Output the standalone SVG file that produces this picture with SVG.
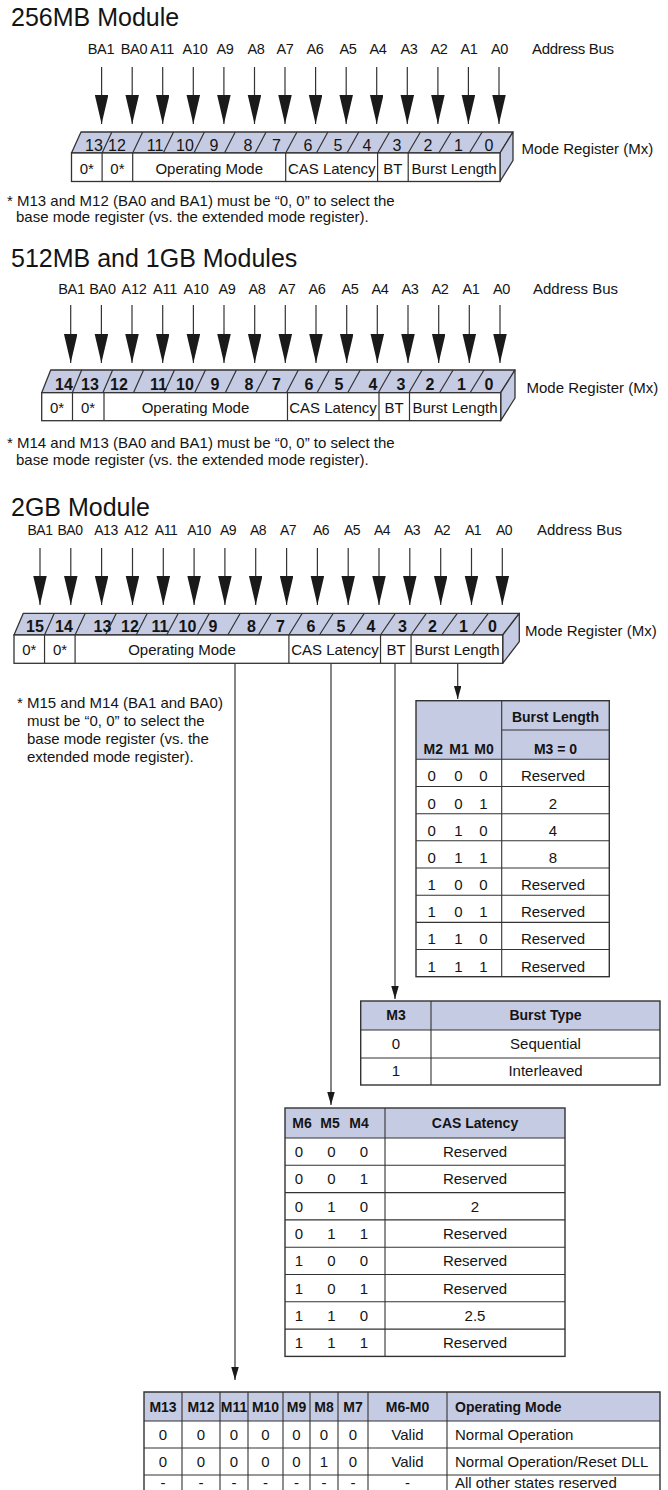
<svg xmlns="http://www.w3.org/2000/svg" width="668" height="1490" viewBox="0 0 668 1490">
<style>
text{font-family:"Liberation Sans",Arial,sans-serif;font-size:15px;fill:#141414}
.ttl{font-size:25px}
.m{text-anchor:middle}
.b{font-weight:bold}
.bh{font-weight:bold;font-size:14px}
.bl{font-size:14.5px;letter-spacing:-0.3px}
.bl3{font-size:14px;letter-spacing:-0.5px}
.bn{font-size:16px}
.face{fill:#c5cbe3;stroke:#333;stroke-width:1.3;stroke-linejoin:round}
.front{fill:#fff;stroke:#333;stroke-width:1.3}
.sl{stroke:#333;stroke-width:1.2;fill:none}
.ln{stroke:#333;stroke-width:1.2;fill:none}
.bus{stroke:#333;stroke-width:1.2}
.hd{fill:#c5cbe3}
.tb{fill:none;stroke:#333;stroke-width:1.4}
.tl{stroke:#333;stroke-width:1.1}
</style>
<defs>
<marker id="big" markerUnits="userSpaceOnUse" markerWidth="29" markerHeight="14" refX="29" refY="6.75" orient="auto"><path d="M0,0 L29,6.75 L0,13.5 z" fill="#1a1a1a"/></marker>
<marker id="sm" markerUnits="userSpaceOnUse" markerWidth="13" markerHeight="8" refX="13" refY="3.75" orient="auto"><path d="M0,0 L13,3.75 L0,7.5 z" fill="#1a1a1a"/></marker>
</defs>

<!-- ============ 256MB ============ -->
<g id="s1-title"><text class="ttl" x="11" y="26">256MB Module</text></g>
<g id="s1-bus" class="bl">
<text class="m bl" x="101" y="54">BA1</text><text class="m bl" x="134" y="54">BA0</text><text class="m bl" x="162" y="54">A11</text><text class="m bl" x="195" y="54">A10</text><text class="m bl" x="225" y="54">A9</text><text class="m bl" x="256" y="54">A8</text><text class="m bl" x="285" y="54">A7</text><text class="m bl" x="315" y="54">A6</text><text class="m bl" x="348" y="54">A5</text><text class="m bl" x="378" y="54">A4</text><text class="m bl" x="409" y="54">A3</text><text class="m bl" x="439" y="54">A2</text><text class="m bl" x="469" y="54">A1</text><text class="m bl" x="499.5" y="54">A0</text>
<text x="532" y="54">Address Bus</text>
</g>
<g id="s1-register">
<polygon class="face" points="71.5,153 81,132 513,132 500,153"/>
<polygon class="face" points="500,153 513,132 513,160.5 500,181.5"/>
<rect class="front" x="71.5" y="153" width="428.5" height="28.5"/>
<path class="sl" d="M102.1,153L111.85,132M132.7,153L142.7,132M163.3,153L173.55,132M193.9,153L204.4,132M224.5,153L235.25,132M255.1,153L266.1,132M285.7,153L296.95,132M316.4,153L327.9,132M347,153L358.75,132M377.6,153L389.6,132M408.2,153L420.45,132M438.8,153L451.3,132M469.4,153L482.15,132"/>
<path class="sl" d="M102.1,153V181.5M132.7,153V181.5M285.7,153V181.5M377.6,153V181.5M408.2,153V181.5"/>
<text class="m bn" x="94" y="151">13</text><text class="m bn" x="117" y="151">12</text><text class="m bn" x="155" y="151">11</text><text class="m bn" x="185" y="151">10</text><text class="m bn" x="214" y="151">9</text><text class="m bn" x="248" y="151">8</text><text class="m bn" x="276.5" y="151">7</text><text class="m bn" x="308" y="151">6</text><text class="m bn" x="338" y="151">5</text><text class="m bn" x="367" y="151">4</text><text class="m bn" x="397" y="151">3</text><text class="m bn" x="428" y="151">2</text><text class="m bn" x="458.5" y="151">1</text><text class="m bn" x="489" y="151">0</text>
<text class="m" x="86.8" y="174">0*</text><text class="m" x="117.4" y="174">0*</text><text class="m" x="209.2" y="174">Operating Mode</text><text class="m" x="331.7" y="174">CAS Latency</text><text class="m" x="392.9" y="174">BT</text><text class="m" x="454.1" y="174">Burst Length</text>
<text x="521.5" y="154">Mode Register (Mx)</text>
</g>
<g id="s1-note">
<text x="7" y="206">* M13 and M12 (BA0 and BA1) must be “0, 0” to select the</text>
<text x="16" y="222">base mode register (vs. the extended mode register).</text>
</g>

<!-- ============ 512MB / 1GB ============ -->
<g id="s2-title"><text class="ttl" x="11" y="267">512MB and 1GB Modules</text></g>
<g id="s2-bus">
<text class="m bl" x="71.5" y="294">BA1</text><text class="m bl" x="102.5" y="294">BA0</text><text class="m bl" x="134" y="294">A12</text><text class="m bl" x="165" y="294">A11</text><text class="m bl" x="196" y="294">A10</text><text class="m bl" x="227" y="294">A9</text><text class="m bl" x="257" y="294">A8</text><text class="m bl" x="287" y="294">A7</text><text class="m bl" x="317" y="294">A6</text><text class="m bl" x="350" y="294">A5</text><text class="m bl" x="380" y="294">A4</text><text class="m bl" x="410" y="294">A3</text><text class="m bl" x="440" y="294">A2</text><text class="m bl" x="471" y="294">A1</text><text class="m bl" x="501.5" y="294">A0</text>
<text x="533" y="294">Address Bus</text>
</g>
<g id="s2-register">
<polygon class="face" points="41.7,392.7 50.7,370 515,370 500.7,392.7"/>
<polygon class="face" points="500.7,392.7 515,370 515,398 500.7,420.7"/>
<rect class="front" x="41.7" y="392.7" width="459" height="28"/>
<path class="sl" d="M72.3,392.7L81.65,370M102.9,392.7L112.6,370M133.5,392.7L143.56,370M164.1,392.7L174.5,370M194.7,392.7L205.47,370M225.3,392.7L236.4,370M255.9,392.7L267.37,370M286.5,392.7L298.3,370M317.1,392.7L329.28,370M347.7,392.7L360.23,370M378.3,392.7L391.2,370M408.9,392.7L422.14,370M439.5,392.7L453.1,370M470.1,392.7L484.04,370"/>
<path class="sl" d="M72.5,392.7V420.7M104,392.7V420.7M287.5,392.7V420.7M379,392.7V420.7M409.5,392.7V420.7"/>
<text class="m b bn" x="64" y="390">14</text><text class="m b bn" x="90" y="390">13</text><text class="m b bn" x="119" y="390">12</text><text class="m b bn" x="158.5" y="390">11</text><text class="m b bn" x="185" y="390">10</text><text class="m b bn" x="215" y="390">9</text><text class="m b bn" x="249" y="390">8</text><text class="m b bn" x="276.5" y="390">7</text><text class="m b bn" x="309" y="390">6</text><text class="m b bn" x="339" y="390">5</text><text class="m b bn" x="373" y="390">4</text><text class="m b bn" x="401" y="390">3</text><text class="m b bn" x="430" y="390">2</text><text class="m b bn" x="461.5" y="390">1</text><text class="m b bn" x="489" y="390">0</text>
<text class="m" x="57" y="413">0*</text><text class="m" x="88" y="413">0*</text><text class="m" x="195.5" y="413">Operating Mode</text><text class="m" x="333" y="413">CAS Latency</text><text class="m" x="394" y="413">BT</text><text class="m" x="455" y="413">Burst Length</text>
<text x="526.5" y="393">Mode Register (Mx)</text>
</g>
<g id="s2-note">
<text x="7" y="448">* M14 and M13 (BA0 and BA1) must be “0, 0” to select the</text>
<text x="16" y="465">base mode register (vs. the extended mode register).</text>
</g>

<!-- ============ 2GB ============ -->
<g id="s3-title"><text class="ttl" x="11" y="516">2GB Module</text></g>
<g id="s3-bus">
<text class="m bl3" x="40" y="535">BA1</text><text class="m bl3" x="70" y="535">BA0</text><text class="m bl3" x="106" y="535">A13</text><text class="m bl3" x="136" y="535">A12</text><text class="m bl3" x="166" y="535">A11</text><text class="m bl3" x="199" y="535">A10</text><text class="m bl3" x="228" y="535">A9</text><text class="m bl3" x="258" y="535">A8</text><text class="m bl3" x="288" y="535">A7</text><text class="m bl3" x="321" y="535">A6</text><text class="m bl3" x="352" y="535">A5</text><text class="m bl3" x="382" y="535">A4</text><text class="m bl3" x="412" y="535">A3</text><text class="m bl3" x="442" y="535">A2</text><text class="m bl3" x="473" y="535">A1</text><text class="m bl3" x="504" y="535">A0</text>
<text x="537" y="535">Address Bus</text>
</g>
<g id="s3-register">
<polygon class="face" points="14,635 23.3,613.3 519.3,613.3 502.7,635"/>
<polygon class="face" points="502.7,635 519.3,613.3 519.3,641.6 502.7,663.3"/>
<rect class="front" x="14" y="635" width="488.7" height="28.3"/>
<path class="sl" d="M44.54,635L54.3,613.3M75.09,635L85.3,613.3M105.63,635L116.3,613.3M136.18,635L147.3,613.3M166.72,635L178.3,613.3M197.26,635L209.3,613.3M227.81,635L240.3,613.3M258.35,635L271.3,613.3M288.9,635L302.3,613.3M319.44,635L333.3,613.3M349.98,635L364.3,613.3M380.53,635L395.3,613.3M411.07,635L426.3,613.3M441.62,635L457.3,613.3M472.16,635L488.3,613.3"/>
<path class="sl" d="M44.54,635V663.3M75.09,635V663.3M288.9,635V663.3M380.53,635V663.3M411.07,635V663.3"/>
<text class="m b bn" x="35" y="632">15</text><text class="m b bn" x="64" y="632">14</text><text class="m b bn" x="102.5" y="632">13</text><text class="m b bn" x="130" y="632">12</text><text class="m b bn" x="160" y="632">11</text><text class="m b bn" x="187.5" y="632">10</text><text class="m b bn" x="213" y="632">9</text><text class="m b bn" x="251.5" y="632">8</text><text class="m b bn" x="280.5" y="632">7</text><text class="m b bn" x="311" y="632">6</text><text class="m b bn" x="341" y="632">5</text><text class="m b bn" x="371" y="632">4</text><text class="m b bn" x="402.5" y="632">3</text><text class="m b bn" x="432.5" y="632">2</text><text class="m b bn" x="463.5" y="632">1</text><text class="m b bn" x="492.5" y="632">0</text>
<text class="m" x="29.3" y="655">0*</text><text class="m" x="60" y="655">0*</text><text class="m" x="182" y="655">Operating Mode</text><text class="m" x="335" y="655">CAS Latency</text><text class="m" x="396" y="655">BT</text><text class="m" x="457" y="655">Burst Length</text>
<text x="525" y="636">Mode Register (Mx)</text>
</g>
<g id="s3-note">
<text x="17" y="708">* M15 and M14 (BA1 and BA0)</text>
<text x="27" y="726">must be “0, 0” to select the</text>
<text x="27" y="744">base mode register (vs. the</text>
<text x="27" y="762">extended mode register).</text>
</g>

<!-- Burst Length table -->
<g id="tbl-burst-length">
<rect class="hd" x="416" y="700.7" width="193.3" height="58.6"/>
<path class="tl" d="M501.7,730H609.3M416,759.3H609.3M416,786.5H609.3M416,813.7H609.3M416,840.8H609.3M416,868H609.3M416,895.2H609.3M416,922.4H609.3M416,949.5H609.3M501.7,700.7V976.7"/>
<rect class="tb" x="416" y="700.7" width="193.3" height="276"/>
<text class="m bh" x="555.5" y="722">Burst Length</text>
<text class="m bh" x="555.5" y="754">M3 = 0</text>
<text class="m bh" x="433.3" y="754">M2</text><text class="m bh" x="459" y="754">M1</text><text class="m bh" x="484" y="754">M0</text>
<text class="m" x="431.7" y="781.3">0</text><text class="m" x="458.3" y="781.3">0</text><text class="m" x="483.3" y="781.3">0</text><text class="m" x="553" y="781.3">Reserved</text>
<text class="m" x="431.7" y="808.5">0</text><text class="m" x="458.3" y="808.5">0</text><text class="m" x="483.3" y="808.5">1</text><text class="m" x="553" y="808.5">2</text>
<text class="m" x="431.7" y="835.7">0</text><text class="m" x="458.3" y="835.7">1</text><text class="m" x="483.3" y="835.7">0</text><text class="m" x="553" y="835.7">4</text>
<text class="m" x="431.7" y="862.8">0</text><text class="m" x="458.3" y="862.8">1</text><text class="m" x="483.3" y="862.8">1</text><text class="m" x="553" y="862.8">8</text>
<text class="m" x="431.7" y="890">1</text><text class="m" x="458.3" y="890">0</text><text class="m" x="483.3" y="890">0</text><text class="m" x="553" y="890">Reserved</text>
<text class="m" x="431.7" y="917.2">1</text><text class="m" x="458.3" y="917.2">0</text><text class="m" x="483.3" y="917.2">1</text><text class="m" x="553" y="917.2">Reserved</text>
<text class="m" x="431.7" y="944.4">1</text><text class="m" x="458.3" y="944.4">1</text><text class="m" x="483.3" y="944.4">0</text><text class="m" x="553" y="944.4">Reserved</text>
<text class="m" x="431.7" y="971.5">1</text><text class="m" x="458.3" y="971.5">1</text><text class="m" x="483.3" y="971.5">1</text><text class="m" x="553" y="971.5">Reserved</text>
</g>

<!-- Burst Type table -->
<g id="tbl-burst-type">
<rect class="hd" x="360.7" y="1001" width="299.3" height="29"/>
<path class="tl" d="M360.7,1030H660M360.7,1058H660M431,1001V1085"/>
<rect class="tb" x="360.7" y="1001" width="299.3" height="84"/>
<text class="m bh" x="396" y="1020">M3</text><text class="m bh" x="545.5" y="1020">Burst Type</text>
<text class="m" x="396" y="1049">0</text><text class="m" x="545.5" y="1049">Sequential</text>
<text class="m" x="396" y="1076">1</text><text class="m" x="545.5" y="1076">Interleaved</text>
</g>

<!-- CAS Latency table -->
<g id="tbl-cas-latency">
<rect class="hd" x="285" y="1108" width="280" height="30"/>
<path class="tl" d="M285,1138H565M285,1165.3H565M285,1192.6H565M285,1219.9H565M285,1247.2H565M285,1274.5H565M285,1301.8H565M285,1329.1H565M385,1108V1356.4"/>
<rect class="tb" x="285" y="1108" width="280" height="248.4"/>
<text class="m bh" x="302" y="1128">M6</text><text class="m bh" x="330" y="1128">M5</text><text class="m bh" x="359" y="1128">M4</text><text class="m bh" x="475" y="1128">CAS Latency</text>
<text class="m" x="299" y="1157">0</text><text class="m" x="331.5" y="1157">0</text><text class="m" x="364" y="1157">0</text><text class="m" x="475" y="1157">Reserved</text>
<text class="m" x="299" y="1184.3">0</text><text class="m" x="331.5" y="1184.3">0</text><text class="m" x="364" y="1184.3">1</text><text class="m" x="475" y="1184.3">Reserved</text>
<text class="m" x="299" y="1211.6">0</text><text class="m" x="331.5" y="1211.6">1</text><text class="m" x="364" y="1211.6">0</text><text class="m" x="475" y="1211.6">2</text>
<text class="m" x="299" y="1238.9">0</text><text class="m" x="331.5" y="1238.9">1</text><text class="m" x="364" y="1238.9">1</text><text class="m" x="475" y="1238.9">Reserved</text>
<text class="m" x="299" y="1266.2">1</text><text class="m" x="331.5" y="1266.2">0</text><text class="m" x="364" y="1266.2">0</text><text class="m" x="475" y="1266.2">Reserved</text>
<text class="m" x="299" y="1293.5">1</text><text class="m" x="331.5" y="1293.5">0</text><text class="m" x="364" y="1293.5">1</text><text class="m" x="475" y="1293.5">Reserved</text>
<text class="m" x="299" y="1320.8">1</text><text class="m" x="331.5" y="1320.8">1</text><text class="m" x="364" y="1320.8">0</text><text class="m" x="475" y="1320.8">2.5</text>
<text class="m" x="299" y="1348.1">1</text><text class="m" x="331.5" y="1348.1">1</text><text class="m" x="364" y="1348.1">1</text><text class="m" x="475" y="1348.1">Reserved</text>
</g>

<!-- Operating Mode table -->
<g id="tbl-operating-mode">
<rect class="hd" x="144" y="1392" width="516" height="29"/>
<path class="tl" d="M144,1421H660M144,1448H660M144,1475H660M182,1392V1490M220,1392V1490M248,1392V1490M283,1392V1490M310,1392V1490M338,1392V1490M368,1392V1490M447,1392V1490"/>
<path class="tb" d="M144,1490V1392H660V1490"/>
<text class="m bh" x="163" y="1412">M13</text><text class="m bh" x="201" y="1412">M12</text><text class="m bh" x="234" y="1412">M11</text><text class="m bh" x="265.5" y="1412">M10</text><text class="m bh" x="296.5" y="1412">M9</text><text class="m bh" x="324" y="1412">M8</text><text class="m bh" x="353" y="1412">M7</text><text class="m bh" x="407.5" y="1412">M6-M0</text><text class="bh" x="455" y="1412">Operating Mode</text>
<text class="m" x="163" y="1440">0</text><text class="m" x="201" y="1440">0</text><text class="m" x="234" y="1440">0</text><text class="m" x="265.5" y="1440">0</text><text class="m" x="296.5" y="1440">0</text><text class="m" x="324" y="1440">0</text><text class="m" x="353" y="1440">0</text><text class="m" x="407.5" y="1440">Valid</text><text x="455" y="1440">Normal Operation</text>
<text class="m" x="163" y="1467">0</text><text class="m" x="201" y="1467">0</text><text class="m" x="234" y="1467">0</text><text class="m" x="265.5" y="1467">0</text><text class="m" x="296.5" y="1467">0</text><text class="m" x="324" y="1467">1</text><text class="m" x="353" y="1467">0</text><text class="m" x="407.5" y="1467">Valid</text><text x="455" y="1467">Normal Operation/Reset DLL</text>
<text class="m" x="163" y="1488">-</text><text class="m" x="201" y="1488">-</text><text class="m" x="234" y="1488">-</text><text class="m" x="265.5" y="1488">-</text><text class="m" x="296.5" y="1488">-</text><text class="m" x="324" y="1488">-</text><text class="m" x="353" y="1488">-</text><text class="m" x="407.5" y="1488">-</text><text x="455" y="1488">All other states reserved</text>
</g>

<!-- Connectors -->
<g id="connectors">
<g class="bus" marker-end="url(#big)">
<line x1="101.6" y1="67" x2="101.6" y2="124"/><line x1="132.2" y1="67" x2="132.2" y2="124"/><line x1="162.7" y1="67" x2="162.7" y2="124"/><line x1="193.3" y1="67" x2="193.3" y2="124"/><line x1="223.9" y1="67" x2="223.9" y2="124"/><line x1="254.5" y1="67" x2="254.5" y2="124"/><line x1="285" y1="67" x2="285" y2="124"/><line x1="315.6" y1="67" x2="315.6" y2="124"/><line x1="346.2" y1="67" x2="346.2" y2="124"/><line x1="376.7" y1="67" x2="376.7" y2="124"/><line x1="407.3" y1="67" x2="407.3" y2="124"/><line x1="437.9" y1="67" x2="437.9" y2="124"/><line x1="468.4" y1="67" x2="468.4" y2="124"/><line x1="499" y1="67" x2="499" y2="124"/>
<line x1="70.7" y1="305" x2="70.7" y2="363"/><line x1="101.4" y1="305" x2="101.4" y2="363"/><line x1="132" y1="305" x2="132" y2="363"/><line x1="162.7" y1="305" x2="162.7" y2="363"/><line x1="193.4" y1="305" x2="193.4" y2="363"/><line x1="224" y1="305" x2="224" y2="363"/><line x1="254.7" y1="305" x2="254.7" y2="363"/><line x1="285.3" y1="305" x2="285.3" y2="363"/><line x1="316" y1="305" x2="316" y2="363"/><line x1="346.7" y1="305" x2="346.7" y2="363"/><line x1="377.3" y1="305" x2="377.3" y2="363"/><line x1="408" y1="305" x2="408" y2="363"/><line x1="438.7" y1="305" x2="438.7" y2="363"/><line x1="469.3" y1="305" x2="469.3" y2="363"/><line x1="500" y1="305" x2="500" y2="363"/>
<line x1="40" y1="548" x2="40" y2="605"/><line x1="70.8" y1="548" x2="70.8" y2="605"/><line x1="101.6" y1="548" x2="101.6" y2="605"/><line x1="132.5" y1="548" x2="132.5" y2="605"/><line x1="163.3" y1="548" x2="163.3" y2="605"/><line x1="194.1" y1="548" x2="194.1" y2="605"/><line x1="224.9" y1="548" x2="224.9" y2="605"/><line x1="255.7" y1="548" x2="255.7" y2="605"/><line x1="286.6" y1="548" x2="286.6" y2="605"/><line x1="317.4" y1="548" x2="317.4" y2="605"/><line x1="348.2" y1="548" x2="348.2" y2="605"/><line x1="379" y1="548" x2="379" y2="605"/><line x1="409.8" y1="548" x2="409.8" y2="605"/><line x1="440.7" y1="548" x2="440.7" y2="605"/><line x1="471.5" y1="548" x2="471.5" y2="605"/><line x1="502.3" y1="548" x2="502.3" y2="605"/>
</g>
<g class="ln" marker-end="url(#sm)">
<line x1="457.7" y1="663.3" x2="457.7" y2="699"/>
<line x1="395" y1="663.3" x2="395" y2="999"/>
<line x1="331" y1="663.3" x2="331" y2="1105"/>
<line x1="235" y1="663.3" x2="235" y2="1380"/>
</g>
</g>
</svg>
